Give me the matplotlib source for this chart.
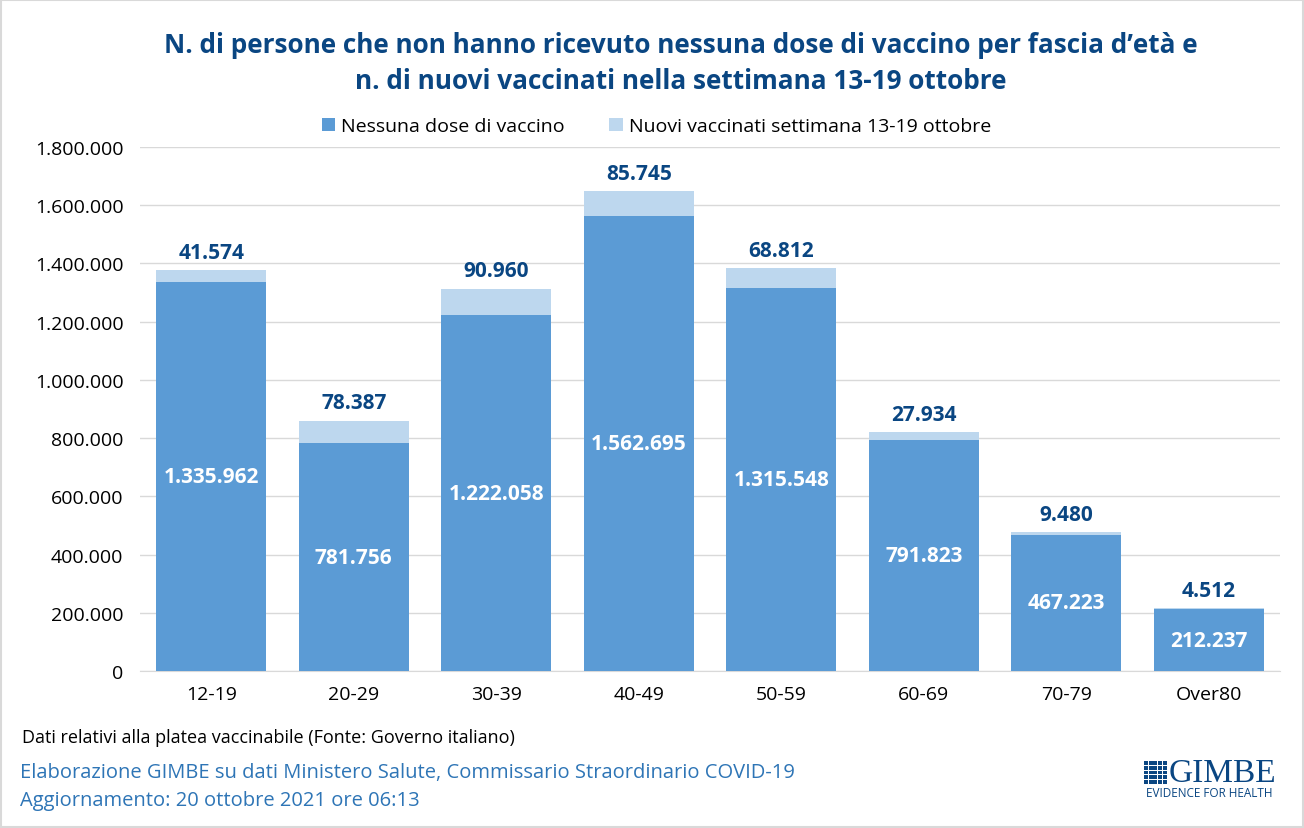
import numpy as np
import matplotlib.pyplot as plt
import matplotlib.patches as patches
from matplotlib.ticker import FuncFormatter

plt.rcParams['font.family'] = ['Open Sans', 'DejaVu Sans']

# Dati
fasce = ["12-19", "20-29", "30-39", "40-49", "50-59", "60-69", "70-79", "Over80"]
nessuna_dose = [1335962, 781756, 1222058, 1562695, 1315548, 791823, 467223, 212237]
nuovi_vaccinati = [41574, 78387, 90960, 85745, 68812, 27934, 9480, 4512]

BLU_SCURO = "#5B9BD5"
BLU_CHIARO = "#BDD7EE"
BLU_TITOLO = "#0A4682"
BLU_NOTE = "#2E75B6"


def fmt_it(v):
    return f"{int(v):,}".replace(",", ".")


fig = plt.figure(figsize=(13.04, 8.29), dpi=100)
fig.patches.append(patches.Rectangle((0.001, 0.001), 0.998, 0.998, transform=fig.transFigure,
                                     fill=False, edgecolor="#D9D9D9", lw=1.5))

ax = fig.add_axes([0.1074, 0.1894, 0.8742, 0.6321])
x = np.arange(len(fasce))
w = 0.77
ax.bar(x, nessuna_dose, w, color=BLU_SCURO, label="Nessuna dose di vaccino", zorder=3)
ax.bar(x, nuovi_vaccinati, w, bottom=nessuna_dose, color=BLU_CHIARO,
       label="Nuovi vaccinati settimana 13-19 ottobre", zorder=3)

for xi, a, b in zip(x, nessuna_dose, nuovi_vaccinati):
    ax.text(xi, a / 2, fmt_it(a), ha="center", va="center", color="white",
            fontsize=15, fontweight="bold", zorder=4)
    ax.text(xi, a + b + 25000, fmt_it(b), ha="center", va="bottom", color=BLU_TITOLO,
            fontsize=15, fontweight="bold", zorder=4)

ax.set_xlim(-0.5, len(fasce) - 0.5)
ax.set_ylim(0, 1800000)
ax.set_yticks(np.arange(0, 1800001, 200000))
ax.yaxis.set_major_formatter(FuncFormatter(lambda v, p: fmt_it(v)))
ax.set_xticks(x)
ax.set_xticklabels(fasce)
ax.tick_params(axis="both", length=0, labelsize=14, colors="black")
ax.tick_params(axis="x", pad=10)
ax.tick_params(axis="y", pad=12)
ax.grid(axis="y", color="#D9D9D9", lw=1, zorder=0)
for s in ["top", "right", "left"]:
    ax.spines[s].set_visible(False)
ax.spines["bottom"].set_color("#D9D9D9")

ax.legend(loc="lower center", bbox_to_anchor=(0.453, 1.0), ncol=2, frameon=False,
          fontsize=14, handlelength=0.7, handleheight=0.7, columnspacing=2.3,
          handletextpad=0.3, borderaxespad=0.2)

fig.text(681 / 1304, 0.945, "N. di persone che non hanno ricevuto nessuna dose di vaccino per fascia d\u2019et\u00e0 e",
         ha="center", va="center", color=BLU_TITOLO, fontsize=18.8, fontweight="bold")
fig.text(681 / 1304, 0.902, "n. di nuovi vaccinati nella settimana 13-19 ottobre",
         ha="center", va="center", color=BLU_TITOLO, fontsize=18.8, fontweight="bold")

fig.text(22 / 1304, 1 - 738 / 829, "Dati relativi alla platea vaccinabile (Fonte: Governo italiano)",
         ha="left", va="center", fontsize=13, color="black")
fig.text(20 / 1304, 1 - 773 / 829, "Elaborazione GIMBE su dati Ministero Salute, Commissario Straordinario COVID-19",
         ha="left", va="center", fontsize=14.5, color=BLU_NOTE)
fig.text(20 / 1304, 1 - 801 / 829, "Aggiornamento: 20 ottobre 2021 ore 06:13",
         ha="left", va="center", fontsize=14.5, color=BLU_NOTE)

# Logo GIMBE
W, H = 1304, 829
for i in range(5):
    for j in range(5):
        fig.patches.append(patches.Rectangle(((1144 + i * 4.7) / W, 1 - (766 + j * 4.7) / H),
                                             3.8 / W, 3.8 / H, transform=fig.transFigure,
                                             color=BLU_TITOLO, lw=0))
fig.text(1169 / W, 1 - 774 / H, "GIMBE", ha="left", va="center", fontsize=24,
         family="Liberation Serif", color=BLU_TITOLO)
fig.text(1209 / W, 1 - 794 / H, "EVIDENCE FOR HEALTH", ha="center", va="center",
         fontsize=8.5, color=BLU_TITOLO)

fig.savefig("out.png", dpi=100)
